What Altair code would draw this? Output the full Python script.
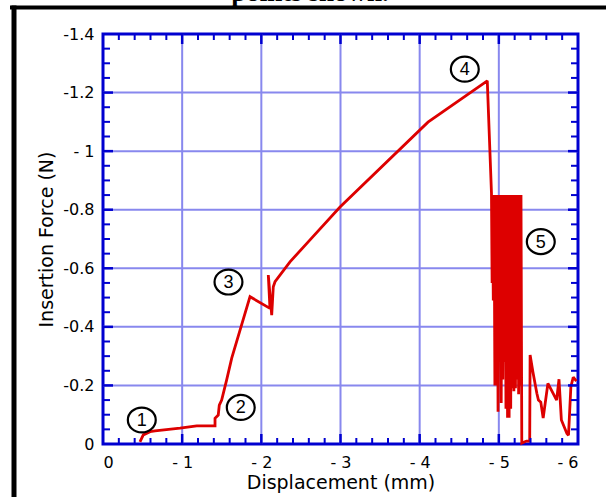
import altair as alt
import pandas as pd

# ---- data ----
disp = [-0.467, -0.509, -0.594, -0.657, -0.973, -1.184, -1.415, -1.415, -1.456, -1.469,
        -1.499, -1.562, -1.626, -1.857, -2.109, -2.088, -2.131, -2.151, -2.173, -2.362,
        -2.615, -2.994, -4.105, -4.854, -4.907, -4.915,
        -4.92, -4.93, -4.94, -4.95, -4.96, -4.97, -4.98, -4.99, -5.00, -5.01,
        -5.02, -5.03, -5.04, -5.05, -5.06, -5.07, -5.08, -5.09, -5.10, -5.11,
        -5.12, -5.13, -5.14, -5.15, -5.16, -5.17, -5.18, -5.19, -5.20, -5.21,
        -5.22, -5.23, -5.24, -5.25, -5.26, -5.27, -5.28,
        -5.29, -5.35, -5.39, -5.395, -5.43, -5.48, -5.50, -5.53, -5.56, -5.62,
        -5.73, -5.76, -5.79, -5.86, -5.88, -5.91, -5.94, -5.98]
force = [-0.007, -0.031, -0.042, -0.045, -0.054, -0.062, -0.062, -0.088, -0.099, -0.133,
         -0.150, -0.219, -0.293, -0.503, -0.463, -0.577, -0.440, -0.537, -0.554, -0.622,
         -0.697, -0.809, -1.099, -1.240, -0.857, -0.550,
         -0.85, -0.49, -0.85, -0.20, -0.85, -0.20, -0.85, -0.11, -0.85, -0.28,
         -0.85, -0.14, -0.85, -0.22, -0.85, -0.28, -0.85, -0.12, -0.85, -0.09,
         -0.85, -0.09, -0.85, -0.12, -0.85, -0.19, -0.85, -0.18, -0.85, -0.19,
         -0.85, -0.22, -0.85, -0.17, -0.85, -0.20, -0.85,
         -0.003, -0.010, -0.010, -0.304, -0.247, -0.173, -0.150, -0.143, -0.089, -0.207,
         -0.150, -0.221, -0.082, -0.036, -0.030, -0.196, -0.228, -0.215]

ann_x = [-0.49, -1.74, -1.585, -4.57, -5.53]
ann_y = [-0.082, -0.125, -0.553, -1.28, -0.691]
ann_label = ["1", "2", "3", "4", "5"]

x_tick_values = [0, -1, -2, -3, -4, -5, -6]
y_tick_values = [0, -0.2, -0.4, -0.6, -0.8, -1.0, -1.2, -1.4]
x_major = [-1, -2, -3, -4, -5]
y_major = [-0.2, -0.4, -0.6, -0.8, -1.0, -1.2]
x_minor = [-0.2, -0.4, -0.6, -0.8, -1.2, -1.4, -1.6, -1.8, -2.2, -2.4, -2.6, -2.8,
           -3.2, -3.4, -3.6, -3.8, -4.2, -4.4, -4.6, -4.8, -5.2, -5.4, -5.6, -5.8]
y_minor = [-0.05, -0.1, -0.15, -0.25, -0.3, -0.35, -0.45, -0.5, -0.55, -0.65, -0.7,
           -0.75, -0.85, -0.9, -0.95, -1.05, -1.1, -1.15, -1.25, -1.3, -1.35]

title_text = "points shown."
x_title = "Displacement (mm)"
y_title = "Insertion Force (N)"

# ---- styling ----
W, H = 475, 410
AXIS_BLUE = "#0000d0"
GRID_BLUE = "#8888ee"
RED = "#dd0000"
FONT = "DejaVu Sans"

xs = alt.Scale(domain=[-6, 0], reverse=True, nice=False, zero=False)
ys = alt.Scale(domain=[-1.4, 0], reverse=True, nice=False, zero=False)

xaxis = alt.Axis(values=x_tick_values, grid=False, ticks=False, domain=False,
                 labelExpr="datum.value == 0 ? '0' : '- ' + abs(datum.value)",
                 labelFont=FONT, labelFontSize=16, labelColor="black",
                 labelPadding=10, titleFont=FONT, titleFontSize=19,
                 titleFontWeight="normal", titleColor="black", titlePadding=3)
yaxis = alt.Axis(values=y_tick_values, grid=False, ticks=False, domain=False,
                 labelExpr="datum.value == 0 ? '0' : (abs(datum.value) % 1 < 1e-9 ? '- ' + abs(datum.value) : '-' + format(abs(datum.value), '.1f'))",
                 labelFont=FONT, labelFontSize=16, labelColor="black",
                 labelPadding=9, titleFont=FONT, titleFontSize=19,
                 titleFontWeight="normal", titleColor="black", titlePadding=6)

def X(field):
    return alt.X(field, scale=xs, title=x_title, axis=xaxis)

def Y(field):
    return alt.Y(field, scale=ys, title=y_title, axis=yaxis)

line_df = pd.DataFrame({"disp": disp, "force": force, "i": list(range(len(disp)))})
ann_df = pd.DataFrame({"ax": ann_x, "ay": ann_y, "lab": ann_label})
xmaj_df = pd.DataFrame({"v": x_major})
ymaj_df = pd.DataFrame({"v": y_major})
xmin_df = pd.DataFrame({"v": x_minor})
ymin_df = pd.DataFrame({"v": y_minor})
one_df = pd.DataFrame({"t": [title_text]})

gx = alt.Chart(xmaj_df).mark_rule(color=GRID_BLUE, strokeWidth=2).encode(x=X("v:Q"))
gy = alt.Chart(ymaj_df).mark_rule(color=GRID_BLUE, strokeWidth=2).encode(y=Y("v:Q"))

def xticks(df, length, width):
    b = alt.Chart(df).mark_rule(color=AXIS_BLUE, strokeWidth=width).encode(
        x=X("v:Q"), y=alt.value(H), y2=alt.value(H - length))
    t = alt.Chart(df).mark_rule(color=AXIS_BLUE, strokeWidth=width).encode(
        x=X("v:Q"), y=alt.value(0), y2=alt.value(length))
    return [b, t]

def yticks(df, length, width):
    l = alt.Chart(df).mark_rule(color=AXIS_BLUE, strokeWidth=width).encode(
        y=Y("v:Q"), x=alt.value(0), x2=alt.value(length))
    r = alt.Chart(df).mark_rule(color=AXIS_BLUE, strokeWidth=width).encode(
        y=Y("v:Q"), x=alt.value(W), x2=alt.value(W - length))
    return [l, r]

line = alt.Chart(line_df).mark_line(color=RED, strokeWidth=2.8, strokeJoin="miter",
                                    strokeMiterLimit=2).encode(
    x=X("disp:Q"), y=Y("force:Q"), order="i:Q")

ellipse = "M -1.12 0 A 1.12 1 0 1 0 1.12 0 A 1.12 1 0 1 0 -1.12 0 Z"
circ = alt.Chart(ann_df).mark_point(shape=ellipse, size=620, filled=False,
                                    color="black", strokeWidth=2.2, opacity=1).encode(
    x=X("ax:Q"), y=Y("ay:Q"))
labs = alt.Chart(ann_df).mark_text(font="Liberation Sans", fontSize=18, color="black",
                                   baseline="middle", dy=1).encode(
    x=X("ax:Q"), y=Y("ay:Q"), text="lab:N")

title = alt.Chart(one_df).mark_text(font="Liberation Serif", fontWeight="bold",
                                    fontSize=27, color="black", baseline="alphabetic",
                                    align="center").encode(
    x=alt.value(207), y=alt.value(-33.5), text="t:N")

frame_h = alt.Chart(one_df).mark_rule(color="black", strokeWidth=4).encode(
    x=alt.value(-93), x2=alt.value(503), y=alt.value(-26.5))
frame_v = alt.Chart(one_df).mark_rule(color="black", strokeWidth=5).encode(
    x=alt.value(-89), y=alt.value(-28.5), y2=alt.value(463))

layers = [gx, gy, line] + xticks(xmin_df, 6, 2) + xticks(xmaj_df, 10, 2.5) \
    + yticks(ymin_df, 7, 2) + yticks(ymaj_df, 10, 2.5) + [circ, labs, title, frame_h, frame_v]

chart = alt.layer(*layers).properties(
    width=W, height=H,
    padding={"left": 103, "top": 34, "right": 28, "bottom": 53},
    autosize=alt.AutoSizeParams(type="none"),
    background="white",
).configure_view(stroke=AXIS_BLUE, strokeWidth=3)

chart.save("out.html", embed_options={"renderer": "svg", "actions": False})
